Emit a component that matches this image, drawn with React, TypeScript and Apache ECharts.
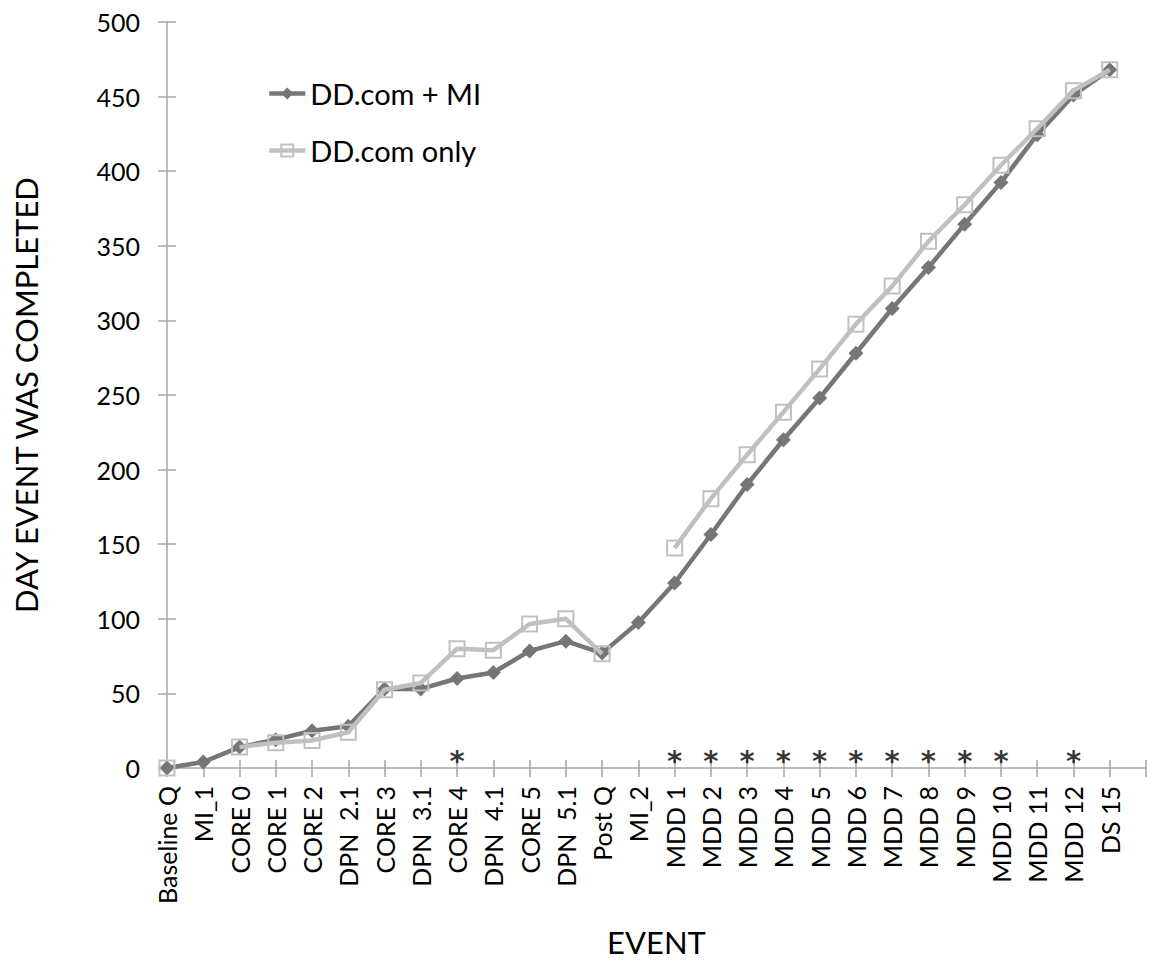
import React, { useEffect, useRef } from "react";
import * as echarts from "echarts";

const categories = [
  "Baseline Q", "MI_1", "CORE 0", "CORE 1", "CORE 2", "DPN  2.1", "CORE 3", "DPN  3.1",
  "CORE 4", "DPN  4.1", "CORE 5", "DPN  5.1", "Post Q", "MI_2",
  "MDD 1", "MDD 2", "MDD 3", "MDD 4", "MDD 5", "MDD 6", "MDD 7", "MDD 8", "MDD 9",
  "MDD 10", "MDD 11", "MDD 12", "DS 15", "",
];

const ddcomMI = [
  0, 4, 14, 19, 25, 28, 53, 53, 60, 64, 78.5, 85, 77, 97.5,
  124, 156.5, 190, 220, 248, 278, 308, 335.5, 364.5, 392.5, 424.5, 451, 468,
];

const ddcomOnly = [
  0, null, 14, 17, 18.5, 24, 52.5, 57, 80, 79, 96.5, 100, 76.5, null,
  147.5, 180.5, 210, 238.5, 267.5, 297.5, 323, 353, 377.5, 404, 428.5, 454, 468,
];

const significant = [
  "CORE 4", "MDD 1", "MDD 2", "MDD 3", "MDD 4", "MDD 5", "MDD 6", "MDD 7",
  "MDD 8", "MDD 9", "MDD 10", "MDD 12",
];

const yTicks = { min: 0, max: 500, interval: 50 };

const FONT = "Lato";
const AXIS_COLOR = "#a6a6a6";
const DARK = "#767676";
const LIGHT = "#c0c0c0";

export default function App() {
  const ref = useRef<HTMLDivElement>(null);
  useEffect(() => {
    if (!ref.current) return;
    const chart = echarts.init(ref.current, null, { renderer: "svg" });
    chart.setOption({
      animation: false,
      backgroundColor: "#ffffff",
      textStyle: { fontFamily: FONT },
      grid: { left: 167, right: 7, top: 22, bottom: 199, containLabel: false },
      legend: {
        data: ["DD.com + MI", "DD.com only"],
        orient: "vertical",
        left: 262,
        top: 74,
        itemWidth: 36,
        itemHeight: 15,
        itemGap: 28,
        lineStyle: { width: 4.5 },
        textStyle: { fontFamily: FONT, fontSize: 29, color: "#000" },
      },
      xAxis: [
        {
          type: "category",
          data: categories,
          boundaryGap: false,
          name: "EVENT",
          nameLocation: "middle",
          nameGap: 158,
          nameTextStyle: { fontFamily: FONT, fontSize: 31, color: "#000" },
          axisLine: { lineStyle: { color: AXIS_COLOR, width: 1.5 } },
          axisTick: { show: true, interval: 0, length: 9, lineStyle: { color: AXIS_COLOR, width: 1.5 } },
          axisLabel: { interval: 0, rotate: 90, fontFamily: FONT, fontSize: 25, color: "#000", margin: 18 },
          splitLine: { show: false },
        },
        {
          type: "category",
          data: categories,
          boundaryGap: false,
          position: "bottom",
          axisLine: { show: false },
          axisTick: { show: true, inside: true, interval: 0, length: 8, lineStyle: { color: AXIS_COLOR, width: 1.5 } },
          axisLabel: { show: false },
          splitLine: { show: false },
        },
      ],
      yAxis: [
        {
          type: "value",
          ...yTicks,
          name: "DAY EVENT WAS COMPLETED",
          nameLocation: "middle",
          nameGap: 126,
          nameTextStyle: { fontFamily: FONT, fontSize: 31, color: "#000" },
          axisLine: { show: true, lineStyle: { color: AXIS_COLOR, width: 1.5 } },
          axisTick: { show: true, length: 9, lineStyle: { color: AXIS_COLOR, width: 1.5 } },
          axisLabel: { fontFamily: FONT, fontSize: 25, color: "#000", margin: 27 },
          splitLine: { show: false },
        },
        {
          type: "value",
          ...yTicks,
          position: "left",
          axisLine: { show: false },
          axisTick: { show: true, inside: true, length: 9, lineStyle: { color: AXIS_COLOR, width: 1.5 } },
          axisLabel: { show: false },
          splitLine: { show: false },
        },
      ],
      series: [
        {
          name: "DD.com + MI",
          type: "line",
          data: ddcomMI,
          symbol: "diamond",
          symbolSize: 15,
          lineStyle: { color: DARK, width: 4.5 },
          itemStyle: { color: DARK },
          z: 2,
        },
        {
          name: "DD.com only",
          type: "line",
          data: ddcomOnly,
          connectNulls: false,
          symbol: "rect",
          symbolSize: 15,
          showAllSymbol: true,
          lineStyle: { color: LIGHT, width: 4.5 },
          itemStyle: { color: "rgba(255,255,255,0)", borderColor: LIGHT, borderWidth: 2 },
          z: 3,
        },
        {
          name: "sig",
          type: "scatter",
          data: significant.map((c) => [c, 0]),
          symbolSize: 1,
          itemStyle: { color: "rgba(0,0,0,0)" },
          label: {
            show: true,
            position: "top",
            distance: -8,
            formatter: "*",
            fontFamily: "DejaVu Sans",
            fontSize: 29,
            fontWeight: "bold",
            color: "#000",
          },
          z: 4,
        },
      ],
    });
    return () => chart.dispose();
  }, []);
  return (
    <div
      ref={ref}
      style={{ position: "absolute", left: 0, top: 0, width: 1153, height: 967 }}
    />
  );
}
